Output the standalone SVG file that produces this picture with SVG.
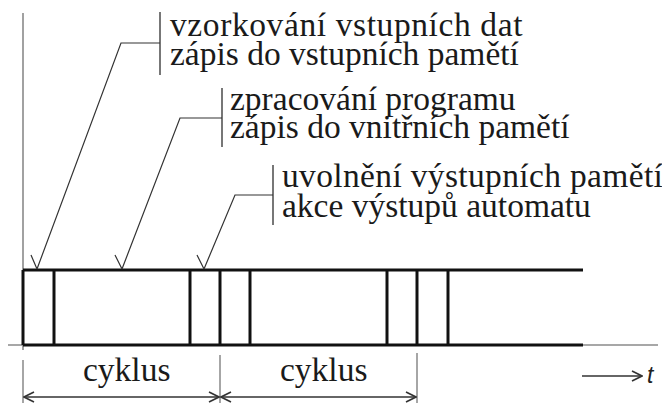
<svg xmlns="http://www.w3.org/2000/svg" width="662" height="403" viewBox="0 0 662 403">
  <style>
    .lbl { font-family: "Liberation Serif", "Times New Roman", serif; font-size: 33.5px; fill: #1a1a1a; }
    .axis { stroke: #8a8a8a; stroke-width: 1.6; fill: none; }
    .bar { stroke: #111; stroke-width: 3; fill: none; }
    .tick { stroke: #111; stroke-width: 3; }
    .lead { stroke: #333; stroke-width: 1.2; fill: none; stroke-linejoin: miter; }
    .brk { stroke: #555; stroke-width: 1.6; }
    .dim { stroke: #333; stroke-width: 1.5; fill: none; }
    .ext { stroke: #888; stroke-width: 1.5; }
  </style>
  <defs>
    <marker id="open" viewBox="0 0 12 12" refX="11" refY="6" markerWidth="12" markerHeight="12" markerUnits="userSpaceOnUse" orient="auto-start-reverse">
      <path d="M1,1 L11,6 L1,11" fill="none" stroke="#333" stroke-width="1.6"/>
    </marker>
  </defs>

  <!-- time axes -->
  <g id="axes">
    <line class="axis" x1="23" y1="13" x2="23" y2="350"/>
    <line class="axis" x1="8" y1="345" x2="658" y2="345"/>
  </g>

  <!-- scan cycle bars -->
  <g id="timeline">
    <line class="bar" x1="23" y1="270" x2="583" y2="270"/>
    <line class="bar" x1="23" y1="345" x2="583" y2="345"/>
    <line class="tick" x1="23" y1="270" x2="23" y2="345"/>
    <line class="tick" x1="54" y1="270" x2="54" y2="345"/>
    <line class="tick" x1="190" y1="270" x2="190" y2="345"/>
    <line class="tick" x1="220" y1="270" x2="220" y2="345"/>
    <line class="tick" x1="250" y1="270" x2="250" y2="345"/>
    <line class="tick" x1="387" y1="270" x2="387" y2="345"/>
    <line class="tick" x1="417" y1="270" x2="417" y2="345"/>
    <line class="tick" x1="448" y1="270" x2="448" y2="345" stroke-width="2.4"/>
  </g>

  <!-- phase labels -->
  <g id="label-input">
    <line class="brk" x1="160" y1="12" x2="160" y2="75"/>
    <text class="lbl" x="170" y="36" letter-spacing="0.6">vzorkování vstupních dat</text>
    <text class="lbl" x="170" y="65">zápis do vstupních pamětí</text>
  </g>
  <g id="label-program">
    <line class="brk" x1="222" y1="88" x2="222" y2="147"/>
    <text class="lbl" x="230" y="110">zpracování programu</text>
    <text class="lbl" x="230" y="138">zápis do vnitřních pamětí</text>
  </g>
  <g id="label-output">
    <line class="brk" x1="273" y1="165" x2="273" y2="225"/>
    <text class="lbl" x="282" y="187" letter-spacing="0.35">uvolnění výstupních pamětí</text>
    <text class="lbl" x="282" y="217">akce výstupů automatu</text>
  </g>

  <!-- cycle dimensions -->
  <g id="dimensions">
    <line class="ext" x1="23" y1="360" x2="23" y2="403"/>
    <line class="ext" x1="220" y1="355" x2="220" y2="403"/>
    <line class="ext" x1="417" y1="353" x2="417" y2="403"/>
    <line class="dim" x1="24" y1="397" x2="219" y2="397" marker-start="url(#open)" marker-end="url(#open)"/>
    <line class="dim" x1="221" y1="397" x2="416" y2="397" marker-start="url(#open)" marker-end="url(#open)"/>
    <text class="lbl" x="83" y="381">cyklus</text>
    <text class="lbl" x="280" y="381">cyklus</text>
  </g>

  <!-- leaders from labels to the phases -->
  <g id="connectors">
    <path class="lead" d="M160,43 H121 L37,269 M31,255 L37,269"/>
    <path class="lead" d="M222,118 H180 L122,269 M115,255 L122,269"/>
    <path class="lead" d="M273,195 H235 L204,269 M197,255 L204,269"/>
  </g>

  <!-- time direction -->
  <g id="time-arrow">
    <line class="dim" x1="582" y1="376" x2="642" y2="376" marker-end="url(#open)"/>
    <text x="647" y="383" font-family="Liberation Sans, Arial, sans-serif" font-style="italic" font-size="23" fill="#222">t</text>
  </g>
</svg>
